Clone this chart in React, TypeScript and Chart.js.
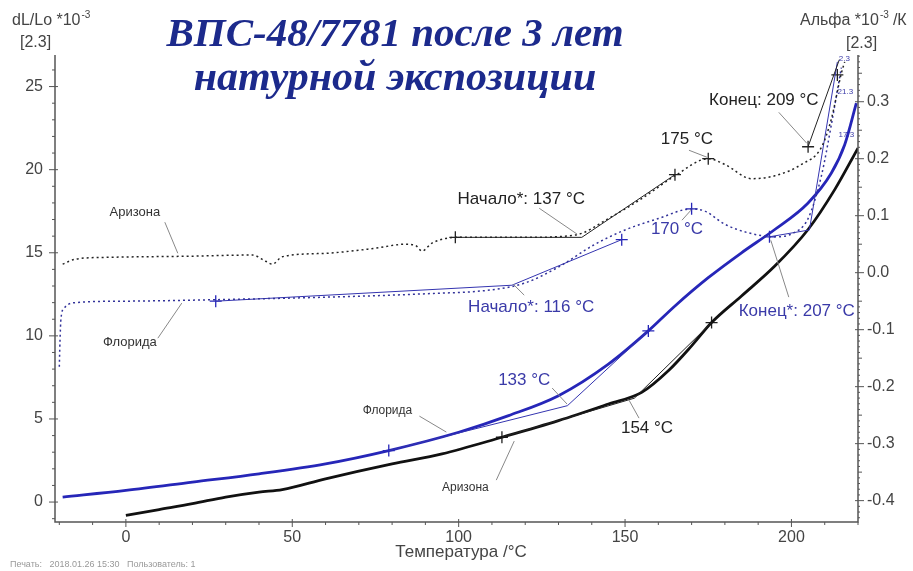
import React, { useEffect, useRef } from "react";
import { Chart, registerables } from "chart.js";
Chart.register(...registerables);

// ---- Data (temperature °C) ----
const AZ_DL_T = [0, 10, 20, 30, 40, 47, 60, 80, 95, 113, 130, 145, 155, 163, 170, 176, 185, 195, 205, 213, 220];
const AZ_DL_V = [-0.8, -0.45, -0.1, 0.3, 0.6, 0.75, 1.4, 2.3, 2.9, 3.9, 4.9, 5.9, 6.6, 7.9, 9.4, 10.8, 12.4, 14.2, 16.4, 18.8, 21.3];

const FL_DL_T = [-19, 0, 20, 40, 60, 79, 100, 115, 130, 145, 157, 165, 175, 185, 195, 205, 212, 216, 219.5];
const FL_DL_V = [0.3, 0.7, 1.2, 1.7, 2.3, 3.1, 4.2, 5.2, 6.4, 8.3, 10.3, 11.8, 13.5, 15.0, 16.4, 18.0, 19.8, 21.5, 24.0];

const AZ_A_T = [-19, -15, -5, 20, 38, 42, 44, 47, 60, 75, 84, 87, 89, 92, 100, 120, 135, 145, 155, 165, 175, 180, 188, 195, 203, 209, 212, 215, 216];
const AZ_A_V = [0.015, 0.024, 0.027, 0.029, 0.031, 0.02, 0.015, 0.028, 0.034, 0.043, 0.05, 0.048, 0.038, 0.052, 0.062, 0.062, 0.066, 0.095, 0.13, 0.17, 0.2, 0.19, 0.165, 0.17, 0.19, 0.22, 0.27, 0.35, 0.37];

const FL_A_T = [-20, -19.8, -19.5, -18.5, -16, 0, 30, 60, 90, 110, 120, 130, 141, 150, 160, 170, 174, 180, 187, 195, 200, 205, 209, 212, 215];
const FL_A_V = [-0.165, -0.12, -0.08, -0.062, -0.053, -0.05, -0.047, -0.043, -0.037, -0.03, -0.018, 0.01, 0.05, 0.075, 0.095, 0.112, 0.108, 0.085, 0.07, 0.063, 0.068, 0.095, 0.17, 0.26, 0.36];

// tangent constructions
const AZ_A_ONSET_T = [99, 137, 165];
const AZ_A_ONSET_V = [0.062, 0.062, 0.172];
const FL_A_ONSET_T = [27, 116, 149];
const FL_A_ONSET_V = [-0.05, -0.022, 0.058];
const AZ_A_END_T = [205, 214.4];
const AZ_A_END_V = [0.221, 0.374];
const FL_A_END_T = [193.4, 205.4, 213.8];
const FL_A_END_V = [0.063, 0.075, 0.37];
const FL_DL_TAN_T = [79, 132.7, 157];
const FL_DL_TAN_V = [3.1, 5.8, 10.3];
const AZ_DL_TAN_T = [113, 152.8, 176];
const AZ_DL_TAN_V = [3.9, 6.25, 10.8];

// "+" markers
const AZ_DL_MARK_T = [113, 176];
const AZ_DL_MARK_V = [3.9, 10.8];
const FL_DL_MARK_T = [79, 157];
const FL_DL_MARK_V = [3.1, 10.3];
const AZ_A_MARK_T = [99, 165, 175, 205, 213.8];
const AZ_A_MARK_V = [0.062, 0.172, 0.2, 0.221, 0.347];
const FL_A_MARK_T = [27, 149, 170, 193.4];
const FL_A_MARK_V = [-0.05, 0.058, 0.112, 0.063];

const X_TICKS = [0, 50, 100, 150, 200];
const Y_TICKS = [0, 5, 10, 15, 20, 25];
const Y1_TICKS = [-0.4, -0.3, -0.2, -0.1, 0.0, 0.1, 0.2, 0.3];

// annotation text (x in °C, y in dL units)
const BLACK = "#222";
const BLUE = "#3a3aa8";
const LABELS = [
  { text: "Аризона", t: 2.7, v: 17.4, color: "#333", size: 13 },
  { text: "Флорида", t: 1.2, v: 9.6, color: "#333", size: 13 },
  { text: "Начало*: 137 °C", t: 118.8, v: 18.2, color: BLACK, size: 17 },
  { text: "175 °C", t: 168.6, v: 21.8, color: BLACK, size: 17 },
  { text: "Конец: 209 °C", t: 191.7, v: 24.2, color: BLACK, size: 17 },
  { text: "170 °C", t: 165.6, v: 16.4, color: BLUE, size: 17 },
  { text: "Начало*: 116 °C", t: 121.8, v: 11.7, color: BLUE, size: 17 },
  { text: "Конец*: 207 °C", t: 201.6, v: 11.5, color: BLUE, size: 17 },
  { text: "133 °C", t: 119.7, v: 7.3, color: BLUE, size: 17 },
  { text: "Флорида", t: 78.6, v: 5.5, color: "#333", size: 12 },
  { text: "154 °C", t: 156.6, v: 4.45, color: BLACK, size: 17 },
  { text: "Аризона", t: 102, v: 0.84, color: "#333", size: 12 },
  { text: "2.3", t: 215.9, v: 26.7, color: BLUE, size: 8 },
  { text: "21.3", t: 216.2, v: 24.7, color: BLUE, size: 8 },
  { text: "17.3", t: 216.5, v: 22.1, color: BLUE, size: 8 },
];
const LEADERS = [
  [11.7, 16.84, 15.6, 14.97],
  [9.6, 9.86, 16.8, 11.97],
  [124.2, 17.68, 135.6, 16.12],
  [169.2, 21.17, 174.6, 20.75],
  [196.2, 23.45, 204.6, 21.59],
  [167.1, 16.96, 169.8, 17.56],
  [119.7, 12.45, 116.4, 13.11],
  [199.2, 12.33, 193.8, 15.75],
  [128.1, 6.86, 132.6, 5.89],
  [88.2, 5.17, 96.3, 4.21],
  [154.2, 5.05, 151.2, 6.13],
  [111.3, 1.32, 116.7, 3.67],
];

const pts = (t: number[], v: number[]) => t.map((x, i) => ({ x, y: v[i] }));

const FONT = "'Liberation Sans', Arial, sans-serif";

const overlay = {
  id: "overlay",
  afterDraw(chart: any) {
    const { ctx, chartArea, scales } = chart;
    const { left, right, top, bottom } = chartArea;
    const x = scales.x, y = scales.y, y1 = scales.y1;
    ctx.save();
    // axes
    ctx.strokeStyle = "#555";
    ctx.lineWidth = 1.5;
    ctx.beginPath();
    ctx.moveTo(left, top);
    ctx.lineTo(left, bottom);
    ctx.lineTo(right, bottom);
    ctx.lineTo(right, top);
    ctx.stroke();
    ctx.lineWidth = 1;
    ctx.beginPath();
    for (let t = -20; t <= 220; t += 10) {
      const p = x.getPixelForValue(t);
      const major = t % 50 === 0;
      ctx.moveTo(p, bottom - (major ? 3 : 0));
      ctx.lineTo(p, bottom + (major ? 5 : 3));
    }
    for (let v = -1; v <= 26; v += 1) {
      const p = y.getPixelForValue(v);
      const major = v % 5 === 0;
      ctx.moveTo(left - (major ? 6 : 3), p);
      ctx.lineTo(left + (major ? 3 : 0), p);
    }
    for (let k = -43; k <= 38; k += 1) {
      const v = k / 100;
      const p = y1.getPixelForValue(v);
      const major = k % 10 === 0;
      const mid = k % 5 === 0;
      ctx.moveTo(right - (major ? 3 : 0), p);
      ctx.lineTo(right + (major ? 6 : mid ? 4 : 2), p);
    }
    ctx.stroke();

    // leaders
    ctx.strokeStyle = "#888";
    ctx.lineWidth = 1;
    ctx.beginPath();
    LEADERS.forEach(([a, b, c, d]) => {
      ctx.moveTo(x.getPixelForValue(a), y.getPixelForValue(b));
      ctx.lineTo(x.getPixelForValue(c), y.getPixelForValue(d));
    });
    ctx.stroke();

    // labels
    ctx.textAlign = "center";
    ctx.textBaseline = "middle";
    LABELS.forEach((l) => {
      ctx.fillStyle = l.color;
      ctx.font = `${l.size}px ${FONT}`;
      ctx.fillText(l.text, x.getPixelForValue(l.t), y.getPixelForValue(l.v));
    });

    // axis titles
    ctx.fillStyle = "#444";
    ctx.font = `16px ${FONT}`;
    ctx.textAlign = "left";
    ctx.fillText("dL/Lo *10", 12, 21);
    let w = ctx.measureText("dL/Lo *10").width;
    ctx.font = `10px ${FONT}`;
    ctx.fillText("-3", 12 + w + 1, 15);
    ctx.font = `16px ${FONT}`;
    ctx.fillText("[2.3]", 20, 43);
    ctx.fillText("Альфа *10", 800, 21);
    w = ctx.measureText("Альфа *10").width;
    ctx.font = `10px ${FONT}`;
    ctx.fillText("-3", 800 + w + 1, 15);
    ctx.font = `16px ${FONT}`;
    ctx.fillText("/К", 800 + w + 14, 21);
    ctx.fillText("[2.3]", 846, 44);
    ctx.textAlign = "center";
    ctx.font = `17px ${FONT}`;
    ctx.fillText("Температура /°C", 461, 552);
    ctx.textAlign = "left";
    ctx.fillStyle = "#999";
    ctx.font = `9px ${FONT}`;
    ctx.fillText("Печать:   2018.01.26 15:30   Пользователь: 1", 10, 565);

    // title
    ctx.fillStyle = "#1c2a8c";
    ctx.textAlign = "center";
    ctx.font = `bold italic 41px 'Liberation Serif', 'Times New Roman', serif`;
    ctx.fillText("ВПС-48/7781 после 3 лет", 395, 35);
    ctx.font = `bold italic 42px 'Liberation Serif', 'Times New Roman', serif`;
    ctx.fillText("натурной экспозиции", 395, 79);
    ctx.restore();
  },
};

export default function App() {
  const ref = useRef<HTMLCanvasElement>(null);
  useEffect(() => {
    document.body.style.margin = "0";
    const line = (data: any, color: string, width: number, axis: string, dash: number[] = [], mono = true) => ({
      data,
      borderColor: color,
      backgroundColor: color,
      borderWidth: width,
      borderDash: dash,
      showLine: true,
      pointRadius: 0,
      yAxisID: axis,
      cubicInterpolationMode: mono ? "monotone" : "default",
      tension: 0,
    });
    const marks = (data: any, color: string, axis: string) => ({
      data,
      borderColor: color,
      backgroundColor: color,
      pointStyle: "cross",
      pointRadius: 6,
      borderWidth: 1.3,
      showLine: false,
      yAxisID: axis,
    });
    const tickFont = { size: 16, family: FONT };
    const chart = new Chart(ref.current!, {
      type: "scatter",
      data: {
        datasets: [
          line(pts(AZ_A_T, AZ_A_V), "#222", 1.5, "y1", [2, 3]),
          line(pts(FL_A_T, FL_A_V), "#33339a", 1.5, "y1", [2, 3]),
          line(pts(AZ_A_ONSET_T, AZ_A_ONSET_V), "#222", 1, "y1", [], false),
          line(pts(FL_A_ONSET_T, FL_A_ONSET_V), "#3434b0", 1, "y1", [], false),
          line(pts(AZ_A_END_T, AZ_A_END_V), "#222", 1, "y1", [], false),
          line(pts(FL_A_END_T, FL_A_END_V), "#3434b0", 1, "y1", [], false),
          line(pts(FL_DL_TAN_T, FL_DL_TAN_V), "#3434b0", 1, "y", [], false),
          line(pts(AZ_DL_TAN_T, AZ_DL_TAN_V), "#222", 1, "y", [], false),
          line(pts(AZ_DL_T, AZ_DL_V), "#111", 2.8, "y"),
          line(pts(FL_DL_T, FL_DL_V), "#2626b8", 2.8, "y"),
          marks(pts(AZ_DL_MARK_T, AZ_DL_MARK_V), "#222", "y"),
          marks(pts(FL_DL_MARK_T, FL_DL_MARK_V), "#2626b8", "y"),
          marks(pts(AZ_A_MARK_T, AZ_A_MARK_V), "#222", "y1"),
          marks(pts(FL_A_MARK_T, FL_A_MARK_V), "#2626b8", "y1"),
        ] as any,
      },
      options: {
        animation: false,
        responsive: false,
        layout: { padding: { top: 55, left: 0, right: 0, bottom: 0 } },
        plugins: { legend: { display: false }, tooltip: { enabled: false } },
        scales: {
          x: {
            type: "linear",
            min: -21.3,
            max: 220,
            grid: { display: false, drawTicks: false },
            border: { display: false },
            afterBuildTicks: (s: any) => { s.ticks = X_TICKS.map((v) => ({ value: v })); },
            afterFit: (s: any) => { s.height = 49; },
            ticks: { color: "#444", font: tickFont, padding: 6, maxRotation: 0 },
          },
          y: {
            type: "linear",
            position: "left",
            min: -1.2,
            max: 26.9,
            grid: { display: false, drawTicks: false },
            border: { display: false },
            afterBuildTicks: (s: any) => { s.ticks = Y_TICKS.map((v) => ({ value: v })); },
            afterFit: (s: any) => { s.width = 55; },
            ticks: { color: "#444", font: tickFont, padding: 12 },
          },
          y1: {
            type: "linear",
            position: "right",
            min: -0.4375,
            max: 0.382,
            grid: { display: false, drawTicks: false },
            border: { display: false },
            afterBuildTicks: (s: any) => { s.ticks = Y1_TICKS.map((v) => ({ value: v })); },
            afterFit: (s: any) => { s.width = 55; },
            ticks: {
              color: "#444",
              font: tickFont,
              padding: 9,
              callback: (v: any) => Number(v).toFixed(1),
            },
          },
        },
      },
      plugins: [overlay],
    } as any);
    return () => chart.destroy();
  }, []);
  return (
    <div style={{ position: "fixed", left: 0, top: 0, width: 913, height: 571, background: "#fff" }}>
      <canvas ref={ref} width={913} height={571} />
    </div>
  );
}
